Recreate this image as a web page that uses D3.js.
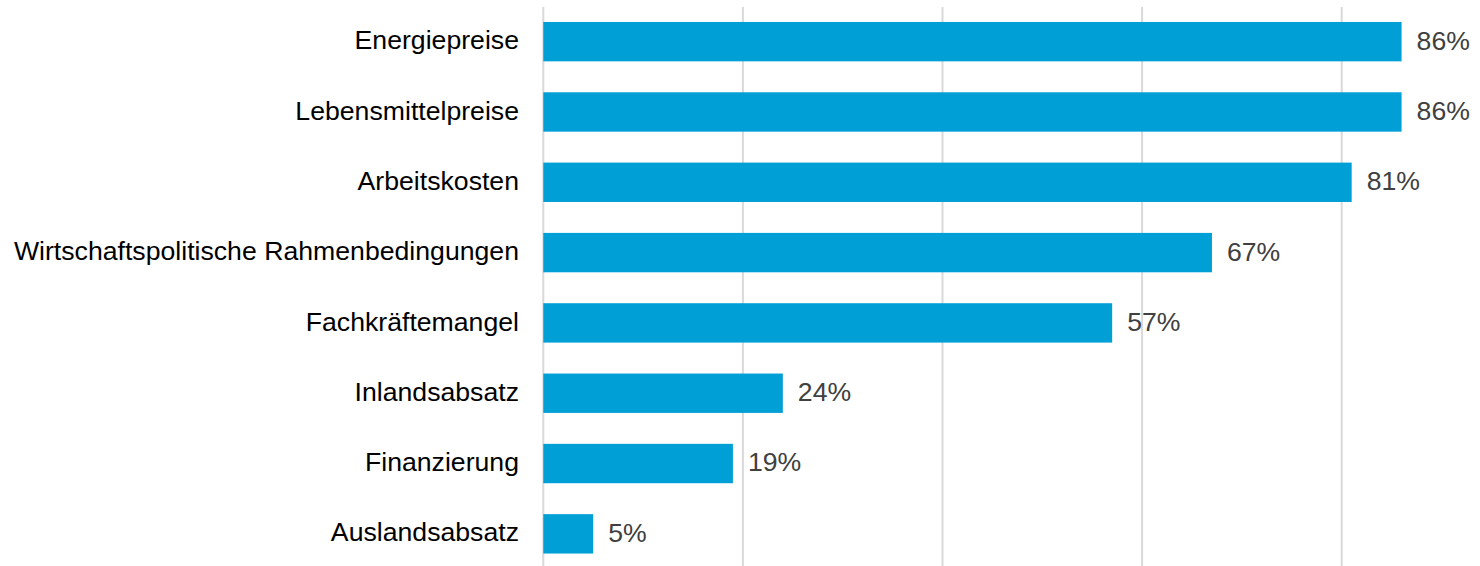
<!DOCTYPE html>
<html>
<head>
<meta charset="utf-8">
<script src="https://cdn.jsdelivr.net/npm/d3@7"></script>
<style>
  html, body { margin: 0; padding: 0; background: #fff; }
  svg { display: block; }
</style>
</head>
<body>
<svg id="chart" width="1480" height="566"></svg>
<script>
const categories = ["Energiepreise", "Lebensmittelpreise", "Arbeitskosten", "Wirtschaftspolitische Rahmenbedingungen", "Fachkräftemangel", "Inlandsabsatz", "Finanzierung", "Auslandsabsatz"];
const values = [86, 86, 81, 67, 57, 24, 19, 5];
const gridTicks = [0, 20, 40, 60, 80];

const svg = d3.select("#chart");
const font = "'Liberation Sans', Arial, sans-serif";
const sx = 1.045;

const x = d3.scaleLinear().domain([0, 80]).range([543.3, 1341.7]);
const y = d3.scaleBand().domain(categories).range([6.5, 569]).paddingInner(0.44).paddingOuter(0.22);

// gridlines
svg.append("g").selectAll("line").data(gridTicks).join("line")
  .attr("x1", d => x(d)).attr("x2", d => x(d))
  .attr("y1", 7).attr("y2", 566)
  .attr("stroke", "#d9d9d9").attr("stroke-width", 2);

// bars
svg.append("g").selectAll("rect").data(values).join("rect")
  .attr("x", x(0))
  .attr("y", (d, i) => y(categories[i]))
  .attr("width", d => x(d) - x(0))
  .attr("height", y.bandwidth())
  .attr("fill", "#009fd6");

// category labels
svg.append("g").selectAll("text").data(categories).join("text")
  .attr("transform", d => `translate(519,${y(d) + y.bandwidth() / 2}) scale(${sx},1)`)
  .attr("dy", "0.3em")
  .attr("text-anchor", "end")
  .attr("font-family", font)
  .attr("font-size", 25.5)
  .attr("fill", "#000")
  .text(d => d);

// value labels
svg.append("g").selectAll("text").data(values).join("text")
  .attr("transform", (d, i) => `translate(${x(d) + 15},${y(categories[i]) + y.bandwidth() / 2}) scale(${sx},1)`)
  .attr("dy", "0.31em")
  .attr("font-family", font)
  .attr("font-size", 25.5)
  .attr("fill", "#404040")
  .text(d => d + "%");
</script>
</body>
</html>
